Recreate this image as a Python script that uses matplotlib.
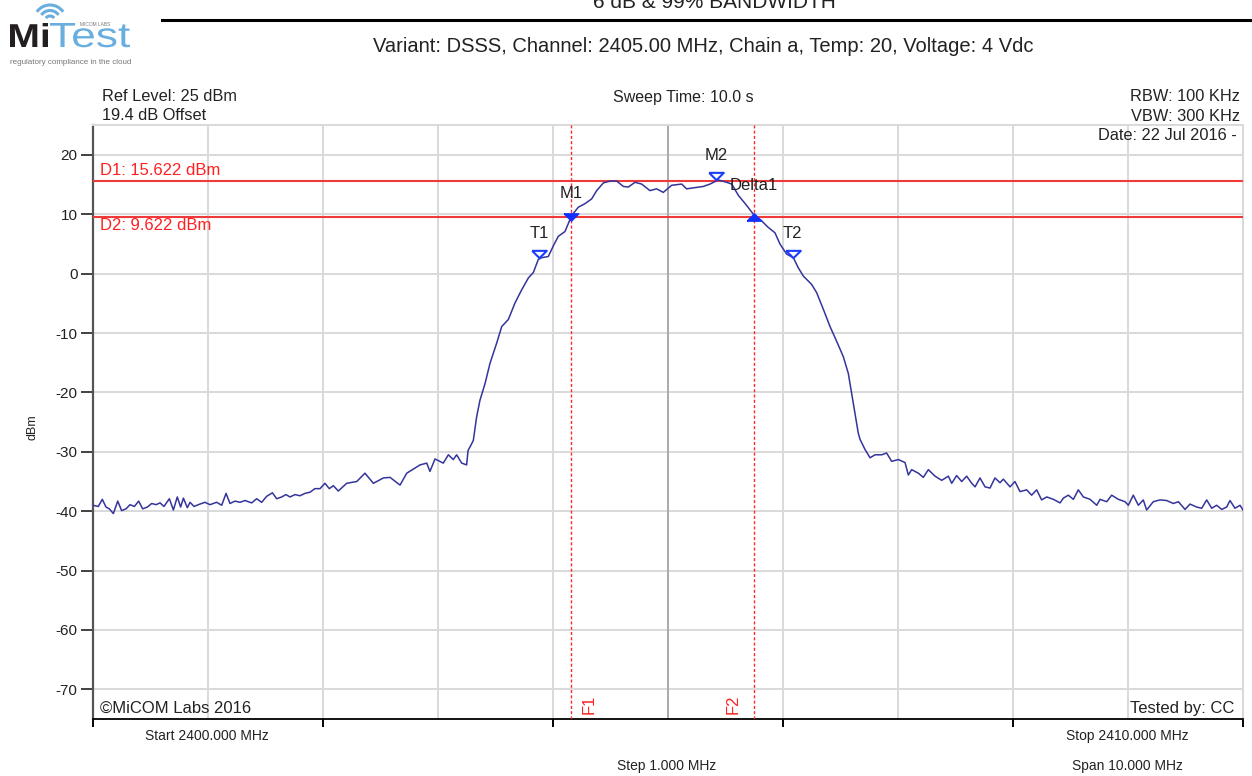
import numpy as np
import matplotlib
matplotlib.use("Agg")
import matplotlib.pyplot as plt
from matplotlib.patches import Arc, PathPatch
from matplotlib.textpath import TextPath
from matplotlib.font_manager import FontProperties
from matplotlib.transforms import Affine2D, offset_copy

plt.rcParams['font.family'] = ['Liberation Sans', 'DejaVu Sans']

# ---------------- data ----------------
start_mhz = 2400.0
stop_mhz = 2410.0
trace_offset_mhz = [
    0.000, 0.046, 0.081, 0.113, 0.142, 0.177, 0.215, 0.249, 0.287, 0.322,
    0.360, 0.397, 0.432, 0.473, 0.510, 0.548, 0.583, 0.617, 0.664, 0.699,
    0.733, 0.762, 0.786, 0.820, 0.844, 0.878, 0.930, 0.974, 1.017, 1.075,
    1.119, 1.157, 1.191, 1.235, 1.278, 1.322, 1.380, 1.423, 1.467, 1.510,
    1.560, 1.597, 1.641, 1.678, 1.713, 1.757, 1.800, 1.843, 1.887, 1.930,
    1.974, 2.017, 2.055, 2.090, 2.133,
    2.206, 2.293, 2.365, 2.438, 2.525, 2.583,
    2.670, 2.728, 2.844, 2.902, 2.930, 2.974, 3.046, 3.090, 3.133, 3.162,
    3.206, 3.249, 3.261, 3.293, 3.307, 3.336, 3.365, 3.409, 3.452, 3.510,
    3.554, 3.612, 3.670, 3.728, 3.786, 3.829, 3.872, 3.901, 3.959, 4.003,
    4.046, 4.104, 4.162, 4.220, 4.278, 4.336, 4.380, 4.438, 4.496, 4.554,
    4.612, 4.655, 4.713, 4.771, 4.843, 4.901, 4.959, 5.032, 5.119, 5.162,
    5.235, 5.307, 5.365, 5.437, 5.510, 5.554, 5.612, 5.684, 5.751, 5.814,
    5.872, 5.930, 5.974, 6.032, 6.090, 6.133, 6.177, 6.249, 6.293, 6.351,
    6.409, 6.467, 6.525, 6.568, 6.597, 6.626, 6.655, 6.670, 6.713, 6.757,
    6.800, 6.858, 6.901, 6.945, 7.003, 7.061, 7.090, 7.119, 7.177, 7.220,
    7.264, 7.322, 7.380, 7.438, 7.467, 7.510, 7.554, 7.597, 7.641, 7.670,
    7.713, 7.757, 7.800, 7.843, 7.887, 7.916, 7.974, 8.017, 8.061, 8.119,
    8.162, 8.206, 8.249, 8.293, 8.351, 8.409, 8.438, 8.481, 8.525, 8.568,
    8.612, 8.670, 8.728, 8.757, 8.815, 8.858, 8.916, 8.974, 9.003, 9.046,
    9.090, 9.133, 9.162, 9.220, 9.278, 9.336, 9.394, 9.438, 9.496, 9.539,
    9.597, 9.641, 9.684, 9.728, 9.771, 9.815, 9.858, 9.887, 9.930, 9.974,
    10.000,
]
trace_dbm = [
    -39.0, -39.2, -38.0, -39.3, -39.6, -40.4, -38.3, -39.9, -39.6, -38.9,
    -39.2, -38.3, -39.6, -39.3, -38.7, -38.9, -38.6, -39.2, -37.9, -39.8,
    -37.6, -39.3, -37.8, -39.4, -38.5, -39.2, -38.8, -38.5, -38.9, -38.5,
    -39.0, -37.0, -38.7, -38.3, -38.5, -38.2, -38.6, -37.9, -38.5, -37.5,
    -36.9, -37.9, -37.6, -37.2, -37.6, -37.2, -37.4, -37.0, -36.8, -36.2,
    -36.2, -35.3, -36.2, -35.7, -36.6,
    -35.3, -35.0, -33.6, -35.3, -34.4, -34.3,
    -35.6, -33.6, -32.2, -31.9, -33.3, -31.2, -31.9, -30.5, -31.3, -30.5,
    -31.9, -32.2, -29.8, -28.6, -28.1, -24.1, -21.3, -18.5, -15.1, -11.7,
    -8.9, -7.7, -4.9, -2.7, -0.7, 0.2, 2.4, 2.7, 2.9, 4.7,
    6.3, 7.1, 9.8, 11.2, 11.8, 12.6, 14.0, 15.3, 15.6, 15.6,
    14.7, 14.6, 15.4, 15.1, 14.0, 14.3, 13.7, 14.9, 15.1, 14.3,
    14.5, 14.7, 15.1, 15.8, 15.4, 15.1, 13.2, 11.5, 9.8, 8.9,
    7.8, 6.9, 5.0, 3.3, 2.7, 1.0, -0.4, -1.8, -3.2, -6.0,
    -8.9, -11.4, -14.0, -16.8, -20.2, -23.6, -26.9, -27.9, -29.6, -31.0,
    -30.5, -30.5, -30.2, -31.6, -31.3, -31.8, -33.9, -33.0, -33.6, -34.3,
    -33.0, -34.1, -34.8, -34.1, -35.3, -34.0, -35.0, -34.1, -35.3, -35.9,
    -34.4, -35.9, -36.1, -34.4, -35.2, -34.6, -35.9, -35.0, -36.7, -36.4,
    -37.3, -36.4, -38.1, -37.6, -38.0, -38.6, -37.8, -37.3, -38.0, -36.4,
    -37.6, -38.0, -39.0, -38.0, -38.4, -37.3, -38.0, -38.4, -39.0, -37.3,
    -39.0, -38.1, -39.8, -38.4, -38.1, -38.2, -38.7, -38.4, -39.7, -38.8,
    -39.3, -39.5, -38.1, -39.5, -39.0, -39.7, -39.3, -38.2, -39.5, -39.0,
    -39.8,
]

d1_dbm = 15.622
d2_dbm = 9.622
f1_mhz = 2404.157
f2_mhz = 2405.748

marker_names = ['T1', 'M1', 'M2', 'Delta1', 'T2']
marker_freq = [2403.878, 2404.157, 2405.420, 2405.748, 2406.084]
marker_dbm = [2.5, 9.622, 15.622, 9.622, 2.5]
marker_filled = [False, True, False, True, False]
marker_up = [False, False, False, True, False]

y_ticks = [-70, -60, -50, -40, -30, -20, -10, 0, 10, 20]
y_min, y_max = -75, 25

title = "6 dB & 99% BANDWIDTH"
subtitle = "Variant: DSSS, Channel: 2405.00 MHz, Chain a, Temp: 20, Voltage: 4 Vdc"

# ---------------- figure ----------------
W, H = 1252, 776
fig = plt.figure(figsize=(W / 100, H / 100), dpi=100)
fig.patch.set_facecolor('white')


def fx(x):
    return x / W


def fy(y):
    return 1 - y / H


ax = fig.add_axes([fx(93), fy(719), fx(1243) - fx(93), fy(125.3) - fy(719)])
ax.set_xlim(start_mhz, stop_mhz)
ax.set_ylim(y_min, y_max)

grid_col = '#d9d9d9'
ax.set_xticks(np.arange(start_mhz, stop_mhz + 0.1, 2.0))
ax.set_xticks(np.arange(start_mhz, stop_mhz + 0.1, 1.0), minor=True)
ax.set_yticks(y_ticks)
ax.set_yticklabels([str(v) for v in y_ticks], fontsize=11, color='#222222')
ax.set_xticklabels([])
ax.grid(True, which='both', color=grid_col, lw=1.4)
ax.set_axisbelow(True)
ax.tick_params(axis='x', which='major', direction='out', length=6, width=1.4,
               color='black')
ax.tick_params(axis='x', which='minor', length=0)
ax.tick_params(axis='y', which='major', direction='out', length=9, width=1.3,
               color='#333333', pad=2)
ax.axvline((start_mhz + stop_mhz) / 2, color='#aaaaaa', lw=1.4, zorder=1)

for s in ['top', 'right']:
    ax.spines[s].set_color(grid_col)
    ax.spines[s].set_linewidth(1.4)
ax.spines['left'].set_color('#555555')
ax.spines['left'].set_linewidth(1.6)
ax.spines['bottom'].set_color('black')
ax.spines['bottom'].set_linewidth(1.3)

# reference lines
ax.axhline(d1_dbm, color='#f03a3a', lw=1.5, zorder=3)
ax.axhline(d2_dbm, color='#f03a3a', lw=1.5, zorder=3)
ax.axvline(f1_mhz, color='#ff2a2a', lw=1.0, dashes=(2.2, 1.6), zorder=3)
ax.axvline(f2_mhz, color='#ff2a2a', lw=1.0, dashes=(2.2, 1.6), zorder=3)

# trace
freqs = start_mhz + np.array(trace_offset_mhz)
ax.plot(freqs, trace_dbm, color='#34349c', lw=1.1, zorder=4)

# markers
down_tri = [(-1, 0.5), (1, 0.5), (0, -0.5), (-1, 0.5)]
up_tri = [(-1, -0.5), (1, -0.5), (0, 0.5), (-1, -0.5)]
label_offsets = {'T1': (0, 25), 'M1': (0, 23), 'M2': (0, 25), 'T2': (0, 25),
                 'Delta1': (-24, 31)}
raised = offset_copy(ax.transData, fig=fig, y=4.5, units='dots')
for name, f, v, filled, up in zip(marker_names, marker_freq, marker_dbm,
                                   marker_filled, marker_up):
    shape = up_tri if up else down_tri
    if filled:
        ax.plot(f, v, marker=shape, ms=10.5, color='#1030ff', mec='#1030ff',
                ls='none', zorder=6)
    else:
        ax.plot(f, v, marker=shape, ms=10.5, mfc='white', mec='#1a3cff',
                mew=1.5, ls='none', zorder=6, transform=raised)
    dx, dy = label_offsets[name]
    ax.annotate(name, xy=(f, v), xytext=(dx, dy), textcoords='offset pixels',
                ha='left' if name == 'Delta1' else 'center', va='center',
                fontsize=12, color='#222222', zorder=7)

# D labels
ax.annotate(f"D1: {d1_dbm:.3f} dBm", xy=(start_mhz, d1_dbm), xytext=(7, 10),
            textcoords='offset pixels', ha='left', va='center', fontsize=12,
            color='#ff2020')
ax.annotate(f"D2: {d2_dbm:.3f} dBm", xy=(start_mhz, d2_dbm), xytext=(7, -9),
            textcoords='offset pixels', ha='left', va='center', fontsize=12,
            color='#ff2020')
# F labels
ax.annotate("F1", xy=(f1_mhz, y_min), xytext=(18, 15), textcoords='offset pixels',
            ha='center', va='center', rotation=90, fontsize=12, color='#ff2020')
ax.annotate("F2", xy=(f2_mhz, y_min), xytext=(-21, 15), textcoords='offset pixels',
            ha='center', va='center', rotation=90, fontsize=12, color='#ff2020')

# texts around the plot
txt = dict(color='#222222')
fig.text(fx(714), fy(8), title, ha='center', va='baseline', fontsize=15, **txt)
fig.text(fx(703), fy(52), subtitle, ha='center', va='baseline', fontsize=14.5,
         **txt)
fig.add_artist(plt.Line2D([fx(162), fx(1252)], [fy(20), fy(20)], color='black',
                          lw=2.2))
fig.text(fx(102), fy(101), "Ref Level: 25 dBm", ha='left', va='baseline',
         fontsize=11.8, **txt)
fig.text(fx(102), fy(120), "19.4 dB Offset", ha='left', va='baseline',
         fontsize=11.8, **txt)
fig.text(fx(683), fy(102), "Sweep Time: 10.0 s", ha='center', va='baseline',
         fontsize=11.5, **txt)
fig.text(fx(1240), fy(101), "RBW: 100 KHz", ha='right', va='baseline',
         fontsize=11.8, **txt)
fig.text(fx(1240), fy(121), "VBW: 300 KHz", ha='right', va='baseline',
         fontsize=11.8, **txt)
fig.text(fx(1237), fy(140), "Date: 22 Jul 2016 -", ha='right', va='baseline',
         fontsize=11.8, **txt)
fig.text(fx(100), fy(713), "©MiCOM Labs 2016", ha='left', va='baseline',
         fontsize=12, **txt)
fig.text(fx(1234), fy(713), "Tested by: CC", ha='right', va='baseline',
         fontsize=12, **txt)
fig.text(fx(207), fy(740), "Start 2400.000 MHz", ha='center', va='baseline',
         fontsize=10, **txt)
fig.text(fx(1127), fy(740), "Stop 2410.000 MHz", ha='center', va='baseline',
         fontsize=10, **txt)
fig.text(fx(667), fy(770), "Step 1.000 MHz", ha='center', va='baseline',
         fontsize=10, **txt)
fig.text(fx(1127), fy(770), "Span 10.000 MHz", ha='center', va='baseline',
         fontsize=10, **txt)
fig.text(fx(33), fy(427), "dBm", ha='center', va='center', rotation=90,
         fontsize=9, **txt)

# logo (pixel coordinates, y downward)
lg = fig.add_axes([0, fy(72), fx(145), fy(0) - fy(72)])
lg.set_xlim(0, 145)
lg.set_ylim(72, 0)
lg.axis('off')
blue = '#6aaee0'


def logo_word(s, x0, x1, base, cap, fp, color):
    tp = TextPath((0, 0), s, size=1, prop=fp)
    ext = tp.get_extents()
    sx = (x1 - x0) / ext.width
    sy = cap / ext.y1
    tr = Affine2D().translate(-ext.x0, 0).scale(sx, -sy).translate(x0, base)
    lg.add_patch(PathPatch(tr.transform_path(tp), fc=color, ec='none'))


logo_word("Mi", 10, 48, 47, 24, FontProperties(family='Liberation Sans',
                                                 weight='bold'), '#231f20')
logo_word("Test", 50, 130, 47, 24, FontProperties(family='Liberation Sans'),
          blue)
for r in [5, 10.5, 16]:
    lg.add_patch(Arc((50, 21), 2 * r, 2 * r, theta1=215, theta2=325,
                     color=blue, lw=2.2))
lg.text(80, 26.5, "MICOM LABS", fontsize=3.5, color='#777777', ha='left',
        va='baseline')
lg.text(10, 64, "regulatory compliance in the cloud", fontsize=5.8,
        color='#777777', ha='left', va='baseline')

fig.savefig('out.png', dpi=100, facecolor='white')
